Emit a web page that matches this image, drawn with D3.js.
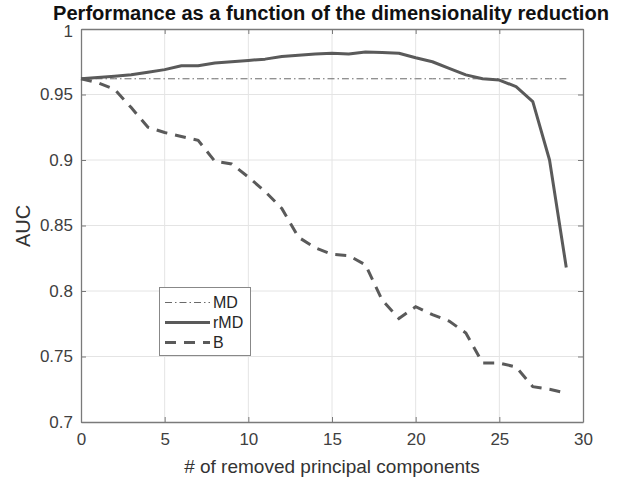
<!DOCTYPE html>
<html>
<head>
<meta charset="utf-8">
<script src="https://cdn.jsdelivr.net/npm/d3@7/dist/d3.min.js"></script>
<style>
  body { margin: 0; background: #fff; }
  text { font-family: "Liberation Sans", Arial, sans-serif; }
</style>
</head>
<body>
<svg id="chart" width="620" height="483"></svg>
<script>
const components = d3.range(0, 30);
const mdValues = [0.962,0.962,0.962,0.962,0.962,0.962,0.962,0.962,0.962,0.962,0.962,0.962,0.962,0.962,0.962,0.962,0.962,0.962,0.962,0.962,0.962,0.962,0.962,0.962,0.962,0.962,0.962,0.962,0.962,0.962];
const rmdValues = [0.962,0.963,0.964,0.965,0.967,0.969,0.972,0.972,0.974,0.975,0.976,0.977,0.979,0.980,0.981,0.9815,0.981,0.9825,0.982,0.9815,0.978,0.975,0.970,0.965,0.962,0.961,0.956,0.9445,0.900,0.818];
const bValues = [0.962,0.959,0.954,0.940,0.925,0.921,0.918,0.915,0.899,0.897,0.887,0.876,0.863,0.841,0.833,0.828,0.827,0.820,0.793,0.779,0.788,0.782,0.777,0.768,0.745,0.745,0.742,0.727,0.725,0.722];
const xTicks = [0,5,10,15,20,25,30];
const yTicks = [0.7,0.75,0.8,0.85,0.9,0.95,1];
const seriesNames = ["MD","rMD","B"];

const svg = d3.select("#chart");
const mLeft = 81, mRight = 583, mTop = 29, mBottom = 422;
const x = d3.scaleLinear().domain([0,30]).range([mLeft,mRight]);
const y = d3.scaleLinear().domain([0.7,1]).range([mBottom,mTop]);

// grid
svg.append("g").selectAll("line").data(xTicks.slice(1,-1)).join("line")
  .attr("x1", d=>x(d)).attr("x2", d=>x(d)).attr("y1", mTop).attr("y2", mBottom)
  .attr("stroke", "#e4e4e4").attr("stroke-width", 1);
svg.append("g").selectAll("line").data(yTicks.slice(1,-1)).join("line")
  .attr("y1", d=>y(d)).attr("y2", d=>y(d)).attr("x1", mLeft).attr("x2", mRight)
  .attr("stroke", "#e4e4e4").attr("stroke-width", 1);

// axes
const axisColor = "#7a7a7a";
const xAxis = svg.append("g").attr("transform", `translate(0,${mBottom})`)
  .call(d3.axisBottom(x).tickValues(xTicks).tickSize(-5).tickSizeOuter(0).tickFormat(d3.format("d")));
const xAxisTop = svg.append("g").attr("transform", `translate(0,${mTop})`)
  .call(d3.axisTop(x).tickValues(xTicks).tickSize(-5).tickSizeOuter(0).tickFormat(""));
const yAxis = svg.append("g").attr("transform", `translate(${mLeft},0)`)
  .call(d3.axisLeft(y).tickValues(yTicks).tickSize(-5).tickSizeOuter(0).tickFormat(d => String(+d.toFixed(2))));
const yAxisRight = svg.append("g").attr("transform", `translate(${mRight},0)`)
  .call(d3.axisRight(y).tickValues(yTicks).tickSize(-5).tickSizeOuter(0).tickFormat(""));
[xAxis, xAxisTop, yAxis, yAxisRight].forEach(g => {
  g.select(".domain").attr("stroke", axisColor).attr("stroke-width", 1.3);
  g.selectAll(".tick line").attr("stroke", axisColor);
});
xAxis.selectAll(".tick text").attr("font-size", 17).attr("fill", "#404040").attr("dy", "0.95em")
  .attr("y", 7);
yAxis.selectAll(".tick text").attr("font-size", 17).attr("fill", "#404040").attr("x", -8);
// top label "1" sits just under the title, as in the reference
yAxis.selectAll(".tick text").filter(d => d === 1).attr("dy", "0.45em");

// lines
const line = d3.line().x((d,i)=>x(components[i])).y(d=>y(d));
svg.append("path").datum(mdValues).attr("d", line).attr("fill","none")
  .attr("stroke","#6a6a6a").attr("stroke-width",1).attr("stroke-dasharray","7,3,1.5,3");
svg.append("path").datum(rmdValues).attr("d", line).attr("fill","none")
  .attr("stroke","#5a5a5a").attr("stroke-width",3).attr("stroke-linejoin","round");
svg.append("path").datum(bValues).attr("d", line).attr("fill","none")
  .attr("stroke","#5a5a5a").attr("stroke-width",3).attr("stroke-dasharray","11,8");

// legend
const lg = svg.append("g");
lg.append("rect").attr("x",159.5).attr("y",287.5).attr("width",91).attr("height",68)
  .attr("fill","#fff").attr("stroke","#888").attr("stroke-width",1);
const styles = [
  {w:1, dash:"7,3,1.5,3", c:"#6a6a6a"},
  {w:3, dash:null, c:"#5a5a5a"},
  {w:3, dash:"11,8", c:"#5a5a5a"}
];
const ly = [302.5, 322.5, 342.5];
seriesNames.forEach((n,i) => {
  const l = lg.append("line").attr("x1",165).attr("x2",210).attr("y1",ly[i]).attr("y2",ly[i])
    .attr("stroke",styles[i].c).attr("stroke-width",styles[i].w);
  if (styles[i].dash) l.attr("stroke-dasharray", styles[i].dash);
  lg.append("text").attr("x",213).attr("y",ly[i]).attr("dy","0.35em").attr("font-size",16)
    .attr("fill","#262626").text(n);
});

// labels
svg.append("text").attr("x", 331).attr("y", 20).attr("text-anchor","middle")
  .attr("font-size",20).attr("font-weight","bold").attr("fill","#111")
  .attr("textLength", 556).attr("lengthAdjust","spacingAndGlyphs")
  .text("Performance as a function of the dimensionality reduction");
svg.append("text").attr("x", 332).attr("y", 473).attr("text-anchor","middle")
  .attr("font-size",19).attr("fill","#333").text("# of removed principal components");
svg.append("text").attr("transform","translate(30,226) rotate(-90)").attr("text-anchor","middle")
  .attr("font-size",20).attr("fill","#333").text("AUC");
</script>
</body>
</html>
